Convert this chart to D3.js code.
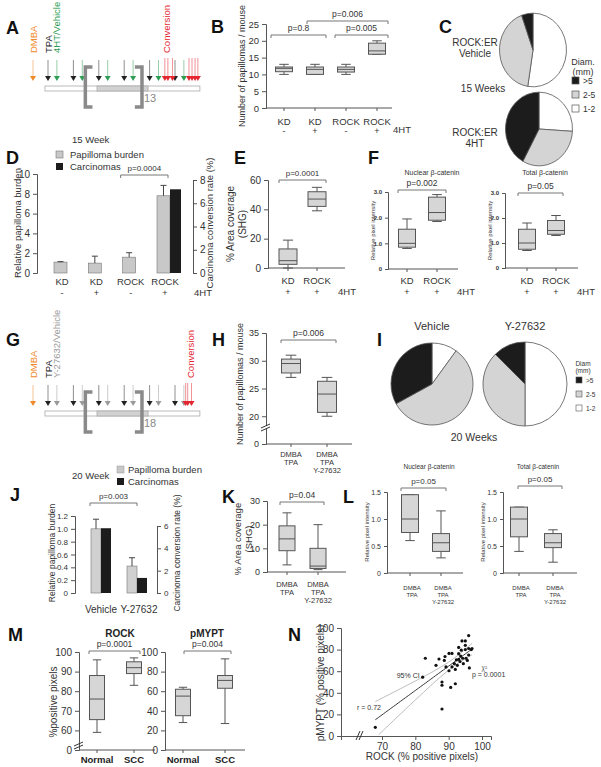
<!DOCTYPE html>
<html><head><meta charset="utf-8">
<script src="https://cdn.jsdelivr.net/npm/d3@7"></script>
<style>body{margin:0;background:#fff}svg{display:block}</style>
</head><body><svg id="c" width="601" height="767"></svg>
<script>
// ---------------- DATA ----------------
// Panel A / G timelines (schematic week units)
const aDmba = [-0.59];
const aTpa = [0,1,2,3,4,5];
const aHT = [0.35,1.35,2.35,3.35,4.35,5.35];
const aConv = [4.6,4.72,4.9,5.55,5.67,5.79,5.9];
const gDmba = [-0.59];
const gTpa = [0,1,2,3,4,5];
const gY = [0.35,1.35,2.35,3.35,4.35,5.35];
const gConv = [5.42,5.5,5.65];
// Panel B
const bCats = ["KD -","KD +","ROCK -","ROCK +"];
const bBoxes = [[10,10.8,11.8,12.2,13],[10,10,11.5,12.2,13],[10,10.7,11.5,12.2,13],[16,16,17,19.3,20]];
const bTicks = [0,5,10,15,20,25];
// Panel C pies (1-2, 2-5, >5)
const cVehicle = [52.5,42,5.5];
const c4HT = [26,32,42];
const diamLabels = ["1-2","2-5",">5"];
// Panel D
const dCats = ["KD -","KD +","ROCK -","ROCK +"];
const dBurden = [1.1,1.0,1.6,7.8];
const dBurdenErr = [1.15,1.7,2.05,8.85];
const dCarc = [0,0,0,7.2];
// Panel E
const eCats = ["KD","ROCK"];
const eBoxes = [[0,2.5,5,13,19],[39,42,47,52,55]];
// Panel F
const fCats = ["KD","ROCK"];
const fNuclear = [[0.8,0.85,1.0,1.55,1.95],[1.85,1.9,2.2,2.8,2.9]];
const fTotal = [[0.7,0.75,1.0,1.55,1.8],[1.3,1.35,1.5,1.9,2.1]];
// Panel H
const hCats = ["DMBA TPA","DMBA TPA Y-27632"];
const hBoxes = [[27,27.8,29.5,30.3,31],[20,20.7,24,26.3,27]];
// Panel I pies (1-2, 2-5, >5)
const iVehicle = [10,57,33];
const iY = [50,37.5,12.5];
// Panel J
const jCats = ["Vehicle","Y-27632"];
const jBurden = [1.0,0.42];
const jBurdenErr = [1.15,0.55];
const jCarc = [5.8,1.35];
// Panel K
const kBoxes = [[3,9,14,19.5,25],[1,1.5,2.5,10,20]];
// Panel L
const lNuclear = [[0.6,0.75,1.0,1.45,1.45],[0.28,0.4,0.56,0.73,1.15]];
const lTotal = [[0.4,0.67,1.0,1.22,1.22],[0.2,0.47,0.56,0.73,0.8]];
// Panel M
const mCats = ["Normal","SCC"];
const mRock = [[59,65.5,76,88,96],[83,89,92,95,97]];
const mPmypt = [[28,35,55,62,64],[27,63,71,76,93]];
// Panel N
const nRock = [68,83,82.2,86.2,87.1,88,88,88,88.9,88.7,89.2,90.1,90.1,90.6,91,91,91.7,92,92,93,93,92.6,93,93.4,93.8,94,94.2,94.4,95,95,95,95.2,96,96,96,96.2,96.8,97,95.6,93.6,92.3];
const nMypt = [8,72,54.5,65.4,71.3,50,47,25,73.6,70,64,76.5,60.4,45,76.5,64,67,61.6,48.4,82,76.2,65.4,71,69,79.5,88,72,67,84,88,80,72,93,81,75,63,80,81,70,74,70.4];

// ---------------- HELPERS ----------------
const FONT = '"Liberation Sans", Arial, Helvetica, sans-serif';
const svg = d3.select('#c').attr('font-family', FONT);
const GRAYF = '#d6d6d6', LINE = '#555', BLK = '#1c1c1c';
const ORANGE = '#ef8a2a', GREEN = '#2f9e55', RED = '#e3262f', GREYT = '#9a9a9a';

function txt(x, y, s, o = {}) {
  const t = svg.append('text').attr('x', x).attr('y', y).text(s)
    .attr('font-size', o.fs || 9).attr('fill', o.fill || '#333')
    .attr('text-anchor', o.anchor || 'middle');
  if (o.bold) t.attr('font-weight', 'bold');
  if (o.rot) t.attr('transform', `rotate(${o.rot},${x},${y})`);
  return t;
}
function letter(x, y, s) { txt(x, y, s, {fs: 18, bold: true, fill: '#111', anchor: 'start'}); }
function yAxis(x, scale, ticks, fmt, o = {}) {
  const g = svg.append('g').attr('transform', `translate(${x},0)`);
  const ax = (o.right ? d3.axisRight : d3.axisLeft)(scale).tickValues(ticks)
    .tickFormat(fmt || (d => d)).tickSizeOuter(0).tickSize(o.ts || 4).tickPadding(o.pad || 3);
  g.call(ax);
  g.attr('font-family', FONT).attr('font-size', o.fs || 9);
  g.selectAll('path,line').attr('stroke', LINE).attr('stroke-width', o.sw || 1);
  g.selectAll('text').attr('fill', '#333');
  if (o.bold) g.selectAll('text').attr('font-weight', 'bold');
  return g;
}
function xLine(x1, x2, y, ticks) {
  svg.append('line').attr('x1', x1).attr('x2', x2).attr('y1', y).attr('y2', y).attr('stroke', LINE);
  ticks.forEach(t => svg.append('line').attr('x1', t).attr('x2', t).attr('y1', y).attr('y2', y + 3).attr('stroke', LINE));
}
function boxes(xs, y, data, w) {
  data.forEach((d, i) => {
    const cx = xs[i], ww = Array.isArray(w) ? w[i] : w;
    const g = svg.append('g').attr('stroke', LINE).attr('stroke-width', 1);
    g.append('line').attr('x1', cx).attr('x2', cx).attr('y1', y(d[4])).attr('y2', y(d[3]));
    g.append('line').attr('x1', cx).attr('x2', cx).attr('y1', y(d[1])).attr('y2', y(d[0]));
    [d[0], d[4]].forEach(v => g.append('line').attr('x1', cx - ww * 0.28).attr('x2', cx + ww * 0.28).attr('y1', y(v)).attr('y2', y(v)));
    g.append('rect').attr('x', cx - ww / 2).attr('width', ww).attr('y', y(d[3])).attr('height', Math.max(0.5, y(d[1]) - y(d[3]))).attr('fill', GRAYF);
    g.append('line').attr('x1', cx - ww / 2).attr('x2', cx + ww / 2).attr('y1', y(d[2])).attr('y2', y(d[2]));
  });
}
function pbr(x1, x2, y, label, fs) {
  svg.append('path').attr('d', `M${x1},${y + 3}V${y}H${x2}V${y + 3}`).attr('fill', 'none').attr('stroke', '#777');
  txt((x1 + x2) / 2, y - 4, label, {fs: fs || 8.5});
}
function pie(cx, cy, r, vals, sy) {
  const arcs = d3.pie().sort(null)(vals);
  const arc = d3.arc().innerRadius(0).outerRadius(r);
  const g = svg.append('g').attr('transform', `translate(${cx},${cy}) scale(1,${sy || 1})`);
  const fills = ['#ffffff', '#d4d4d4', BLK];
  g.selectAll('path').data(arcs).join('path').attr('d', arc).attr('fill', (d, i) => fills[i])
    .attr('stroke', '#555').attr('stroke-width', 0.8).attr('vector-effect', 'non-scaling-stroke');
}
function multiline(x, y, lines, fs, dy) {
  lines.forEach((l, i) => txt(x, y + i * dy, l, {fs}));
}

// ---------------- TIMELINES (A, G) ----------------
const tScale = d3.scaleLinear().domain([0, 5]).range([48, 175]);
function timeline(y0, groups, labels, number) {
  groups.forEach(gr => gr.ts.forEach(t => {
    const x = tScale(t);
    svg.append('line').attr('x1', x).attr('x2', x).attr('y1', y0 - 21 - (gr.long ? 2 : 0)).attr('y2', y0 - 4)
      .attr('stroke', gr.c).attr('stroke-opacity', 0.5).attr('stroke-width', 1);
    svg.append('path').attr('d', `M${x - 3},${y0 - 5}L${x + 3},${y0 - 5}L${x},${y0}Z`).attr('fill', gr.c);
  }));
  const ry = y0 + 5;
  svg.append('rect').attr('x', tScale(-0.12)).attr('width', tScale(5.98) - tScale(-0.12)).attr('y', ry).attr('height', 5)
    .attr('fill', '#fff').attr('stroke', '#aaa').attr('stroke-width', 0.8);
  svg.append('rect').attr('x', tScale(1.93)).attr('width', tScale(3.94) - tScale(1.93)).attr('y', ry).attr('height', 5)
    .attr('fill', '#d2d2d2').attr('stroke', '#aaa').attr('stroke-width', 0.8);
  const bt = y0 - 14, bb = y0 + 26;
  svg.append('path').attr('d', `M${tScale(1.75)},${bt}H${tScale(1.47)}V${bb}H${tScale(1.75)}`).attr('fill', 'none').attr('stroke', '#8a8a8a').attr('stroke-width', 3.5);
  svg.append('path').attr('d', `M${tScale(3.42)},${bt}H${tScale(3.7)}V${bb}H${tScale(3.42)}`).attr('fill', 'none').attr('stroke', '#8a8a8a').attr('stroke-width', 3.5);
  txt(tScale(3.78), y0 + 21, number, {fs: 11, fill: '#888', anchor: 'start'});
  labels.forEach(l => txt(tScale(l.t) + 3.5, y0 - 28, l.s, {fs: 9.5, fill: l.c, anchor: 'start', rot: -90}));
}

// ---------------- PANEL A ----------------
letter(6, 34, 'A');
timeline(81, [
  {ts: aDmba, c: ORANGE}, {ts: aTpa, c: '#222'}, {ts: aHT, c: GREEN}, {ts: aConv, c: RED, long: true}
], [
  {t: aDmba[0], s: 'DMBA', c: ORANGE}, {t: 0, s: 'TPA', c: '#222'}, {t: 0.35, s: '4HT/Vehicle', c: GREEN}, {t: 4.67, s: 'Conversion', c: RED}
], '13');

// ---------------- PANEL B ----------------
letter(211, 33, 'B');
{
  const y = d3.scaleLinear().domain([0, 25]).range([108, 24]);
  const x = d3.scalePoint().domain(bCats).range([284, 377]);
  yAxis(266, y, bTicks, null, {fs: 9.5});
  const xs = bCats.map(c => x(c));
  xLine(266, 392, 108, xs);
  boxes(xs, y, bBoxes, 17);
  pbr(xs[0] - 13, xs[1] + 11, 35, 'p=0.8');
  pbr(xs[2] - 11, xs[3] + 11, 35, 'p=0.005');
  pbr(xs[1] - 8, xs[3] + 11, 21, 'p=0.006');
  bCats.forEach((c, i) => { const [a, b] = c.split(' '); txt(xs[i], 125, a, {fs: 9.5}); txt(xs[i], 134, b === '-' ? '-' : '+', {fs: 9}); });
  txt(402, 133, '4HT', {fs: 9.5});
  txt(245, 66, 'Number of papillomas / mouse', {fs: 9, rot: -90});
}

// ---------------- PANEL C ----------------
letter(439, 33, 'C');
pie(533, 50, 33.5, cVehicle, 1.1);
pie(539, 129, 33.5, c4HT, 1.1);
multiline(475, 46, ['ROCK:ER', 'Vehicle'], 10, 11);
multiline(475, 136, ['ROCK:ER', '4HT'], 10, 11);
txt(483, 92, '15 Weeks', {fs: 10});
multiline(583, 65, ['Diam.', '(mm)'], 9, 10);
[BLK, '#d4d4d4', '#fff'].forEach((f, i) => {
  svg.append('rect').attr('x', 572).attr('y', 77 + i * 14).attr('width', 7).attr('height', 7).attr('fill', f).attr('stroke', '#555').attr('stroke-width', 0.7);
  txt(583, 84 + i * 14, diamLabels[2 - i], {fs: 8.5, anchor: 'start'});
});

// ---------------- PANEL D ----------------
letter(6, 164, 'D');
txt(72, 143, '15 Week', {fs: 9.5, anchor: 'start'});
svg.append('rect').attr('x', 56).attr('y', 151).attr('width', 7).attr('height', 7).attr('fill', '#c8c8c8').attr('stroke', '#777').attr('stroke-width', 0.6);
svg.append('rect').attr('x', 56).attr('y', 163).attr('width', 7).attr('height', 7).attr('fill', BLK);
txt(70, 158, 'Papilloma burden', {fs: 9.5, anchor: 'start'});
txt(70, 170, 'Carcinomas', {fs: 9.5, anchor: 'start'});
{
  const y = d3.scaleLinear().domain([0, 10]).range([273, 174]);
  const y2 = d3.scaleLinear().domain([0, 8]).range([273, 180]);
  const x = d3.scalePoint().domain(dCats).range([67, 170]);
  yAxis(37, y, [0, 2, 4, 6, 8, 10], null, {fs: 10});
  yAxis(193, y2, [0, 2, 4, 6, 8], null, {fs: 10, right: true});
  dCats.forEach((c, i) => {
    const cx = x(c);
    svg.append('rect').attr('x', cx - 13).attr('width', 13).attr('y', y(dBurden[i])).attr('height', y(0) - y(dBurden[i])).attr('fill', '#c8c8c8').attr('stroke', '#777').attr('stroke-width', 0.6);
    svg.append('line').attr('x1', cx - 6.5).attr('x2', cx - 6.5).attr('y1', y(dBurden[i])).attr('y2', y(dBurdenErr[i])).attr('stroke', '#444');
    svg.append('line').attr('x1', cx - 9.5).attr('x2', cx - 3.5).attr('y1', y(dBurdenErr[i])).attr('y2', y(dBurdenErr[i])).attr('stroke', '#444');
    if (dCarc[i] > 0) svg.append('rect').attr('x', cx).attr('width', 11).attr('y', y2(dCarc[i])).attr('height', y2(0) - y2(dCarc[i])).attr('fill', BLK);
    const [a, b] = c.split(' ');
    txt(cx - 5, 285, a, {fs: 9.5});
    txt(cx - 5, 296, b, {fs: 9});
  });
  txt(203, 296, '4HT', {fs: 9.5});
  pbr(x(dCats[2]) - 15, x(dCats[3]) - 2, 175, 'p=0.0004', 8);
  txt(21, 223, 'Relative papilloma burden', {fs: 9.5, rot: -90});
  txt(213, 223, 'Carcinoma conversion rate (%)', {fs: 9.5, rot: -90});
}

// ---------------- PANEL E ----------------
letter(234, 164, 'E');
{
  const y = d3.scaleLinear().domain([0, 60]).range([268, 180]);
  const x = d3.scalePoint().domain(eCats).range([288, 317]);
  yAxis(268, y, [0, 20, 40, 60], null, {fs: 10});
  const xs = eCats.map(c => x(c));
  xLine(268, 345, 268, xs);
  boxes(xs, y, eBoxes, 18);
  pbr(279, 326, 180, 'p=0.0001', 8);
  eCats.forEach((c, i) => { txt(xs[i], 284, c, {fs: 9.5}); txt(xs[i], 295, '+', {fs: 9}); });
  txt(347, 295, '4HT', {fs: 9.5});
  txt(234, 224, '% Area coverage', {fs: 10, rot: -90});
  txt(246, 224, '(SHG)', {fs: 10, rot: -90});
}

// ---------------- PANEL F ----------------
letter(368, 164, 'F');
function fPanel(ax, ex, top, bot, cx, data, title, tx, pl, br) {
  const y = d3.scaleLinear().domain([0, 3]).range([bot, top]);
  const x = d3.scalePoint().domain(fCats).range(cx);
  yAxis(ax, y, [0, 1, 2, 3], d => d === 0 ? '0' : d.toFixed(1), {fs: 6, bold: true, ts: 3});
  const xs = fCats.map(c => x(c));
  xLine(ax, ex, bot, xs);
  boxes(xs, y, data, 17);
  txt(tx, 175, title, {fs: 7});
  pbr(br[0], br[1], br[2], pl, 8.5);
  fCats.forEach((c, i) => { txt(xs[i], 284, c, {fs: 9.5}); txt(xs[i], 295, '+', {fs: 9}); });
  txt(ex + 8, 295, '4HT', {fs: 9.5});
  txt(ax - 13, (top + bot) / 2, 'Relative pixel intensity', {fs: 6, rot: -90});
}
fPanel(388, 458, 192, 269, [407, 437], fNuclear, 'Nuclear β-catenin', 432, 'p=0.002', [398, 446, 190]);
fPanel(505, 578, 193, 268, [527, 556], fTotal, 'Total β-catenin', 545, 'p=0.05', [518, 563, 193]);

// ---------------- PANEL G ----------------
letter(6, 346, 'G');
timeline(406, [
  {ts: gDmba, c: ORANGE}, {ts: gTpa, c: '#222'}, {ts: gY, c: GREYT}, {ts: gConv, c: RED, long: true}
], [
  {t: gDmba[0], s: 'DMBA', c: ORANGE}, {t: 0, s: 'TPA', c: '#222'}, {t: 0.35, s: 'Y-27632/Vehicle', c: GREYT}, {t: 5.6, s: 'Conversion', c: RED}
], '18');

// ---------------- PANEL H ----------------
letter(212, 346, 'H');
{
  const y = d3.scaleLinear().domain([15, 35]).range([444, 333]);
  const x = d3.scalePoint().domain(hCats).range([291, 327]);
  yAxis(266, y, [15, 20, 25, 30, 35], d => d === 15 ? '0' : d, {fs: 9});
  const xs = hCats.map(c => x(c));
  xLine(266, 352, 444, xs);
  svg.append('rect').attr('x', 262).attr('y', 426).attr('width', 8).attr('height', 3).attr('fill', '#fff');
  [426, 429].forEach(yy => svg.append('line').attr('x1', 261).attr('x2', 270).attr('y1', yy + 2).attr('y2', yy - 2).attr('stroke', '#333'));
  boxes(xs, y, hBoxes, 19);
  pbr(281, 336, 340, 'p=0.006', 8.5);
  hCats.forEach((c, i) => c.split(' ').forEach((w, j) => txt(xs[i], 457 + j * 8, w, {fs: 7.5})));
  txt(243, 384, 'Number of papillomas / mouse', {fs: 9, rot: -90});
}

// ---------------- PANEL I ----------------
letter(377, 346, 'I');
pie(432, 384, 41, iVehicle);
pie(525, 384, 42, iY);
txt(432, 330, 'Vehicle', {fs: 11});
txt(525, 330, 'Y-27632', {fs: 11});
multiline(583, 366, ['Diam', '(mm)'], 6.5, 7);
[BLK, '#d4d4d4', '#fff'].forEach((f, i) => {
  svg.append('rect').attr('x', 576).attr('y', 377 + i * 14).attr('width', 6).attr('height', 6).attr('fill', f).attr('stroke', '#555').attr('stroke-width', 0.6);
  txt(586, 383 + i * 14, diamLabels[2 - i], {fs: 6.5, anchor: 'start'});
});
txt(474, 441, '20 Weeks', {fs: 10.5});

// ---------------- PANEL J ----------------
txt(72, 479, '20 Week', {fs: 9.5, anchor: 'start'});
svg.append('rect').attr('x', 117).attr('y', 466).attr('width', 7).attr('height', 7).attr('fill', '#c8c8c8').attr('stroke', '#999').attr('stroke-width', 0.5);
svg.append('rect').attr('x', 117).attr('y', 478).attr('width', 7).attr('height', 7).attr('fill', BLK);
txt(128, 473, 'Papilloma burden', {fs: 9.5, anchor: 'start'});
txt(128, 485, 'Carcinomas', {fs: 9.5, anchor: 'start'});
letter(10, 501, 'J');
{
  const y = d3.scaleLinear().domain([0, 1.2]).range([593, 516]);
  const y2 = d3.scaleLinear().domain([0, 6]).range([593, 526]);
  const x = d3.scalePoint().domain(jCats).range([101, 137]);
  yAxis(75, y, [0, 0.2, 0.4, 0.6, 0.8, 1.0, 1.2], d => d === 0 ? '0' : d.toFixed(1), {fs: 8});
  yAxis(157, y2, [0, 2, 4, 6], null, {fs: 8, right: true});
  jCats.forEach((c, i) => {
    const cx = x(c);
    svg.append('rect').attr('x', cx - 10).attr('width', 10).attr('y', y(jBurden[i])).attr('height', y(0) - y(jBurden[i])).attr('fill', '#d0d0d0').attr('stroke', '#777').attr('stroke-width', 0.6);
    svg.append('line').attr('x1', cx - 5).attr('x2', cx - 5).attr('y1', y(jBurden[i])).attr('y2', y(jBurdenErr[i])).attr('stroke', '#444');
    svg.append('line').attr('x1', cx - 8).attr('x2', cx - 2).attr('y1', y(jBurdenErr[i])).attr('y2', y(jBurdenErr[i])).attr('stroke', '#444');
    svg.append('rect').attr('x', cx).attr('width', 10).attr('y', y2(jCarc[i])).attr('height', y2(0) - y2(jCarc[i])).attr('fill', BLK);
    txt(cx + (i ? 2 : 0), 613, c, {fs: 10});
  });
  pbr(90, 137, 503, 'p=0.003', 8);
  txt(55, 553, 'Relative papilloma burden', {fs: 8.5, rot: -90});
  txt(180, 553, 'Carcinoma conversion rate (%)', {fs: 8.5, rot: -90});
}

// ---------------- PANEL K ----------------
letter(222, 503, 'K');
{
  const y = d3.scaleLinear().domain([0, 30]).range([572, 501]);
  const x = d3.scalePoint().domain(hCats).range([287, 318]);
  yAxis(267, y, [0, 10, 20, 30], null, {fs: 9});
  const xs = hCats.map(c => x(c));
  xLine(267, 346, 572, xs);
  boxes(xs, y, kBoxes, 16);
  pbr(280, 324, 502, 'p=0.04', 8.5);
  hCats.forEach((c, i) => c.split(' ').forEach((w, j) => txt(xs[i], 587 + j * 8, w, {fs: 7.5})));
  txt(241, 539, '% Area coverage', {fs: 9.5, rot: -90});
  txt(252, 539, '(SHG)', {fs: 9.5, rot: -90});
}

// ---------------- PANEL L ----------------
letter(343, 503, 'L');
function lPanel(ax, ex, cx, data, title, tx, pl, br) {
  const y = d3.scaleLinear().domain([0, 1.5]).range([573, 492]);
  const x = d3.scalePoint().domain(hCats).range(cx);
  yAxis(ax, y, [0, 0.5, 1.0, 1.5], d => d === 0 ? '0' : d.toFixed(1), {fs: 7, ts: 3});
  const xs = hCats.map(c => x(c));
  xLine(ax, ex, 573, xs);
  boxes(xs, y, data, 17);
  txt(tx, 469, title, {fs: 6.5});
  pbr(br[0], br[1], br[2], pl, 8);
  hCats.forEach((c, i) => c.split(' ').forEach((w, j) => txt(xs[i] + 2, 590 + j * 7, w, {fs: 6})));
  txt(ax - 18, 532, 'Relative pixel intensity', {fs: 6, rot: -90});
}
lPanel(387, 463, [410, 441], lNuclear, 'Nuclear β-catenin', 429, 'p=0.05', [401, 446, 488]);
lPanel(503, 577, [519, 553], lTotal, 'Total β-catenin', 538, 'p=0.05', [518, 562, 486]);

// ---------------- PANEL M ----------------
letter(8, 641, 'M');
function mPanel(ax, ex, cx, data, scaleDom, ticks, fmt, title, tx, pl, br) {
  const y = d3.scaleLinear().domain(scaleDom).range([750, 652]);
  const x = d3.scalePoint().domain(mCats).range(cx);
  yAxis(ax, y, ticks, fmt, {fs: 10});
  const xs = mCats.map(c => x(c));
  xLine(ax, ex, 750, xs);
  boxes(xs, y, data, 15);
  txt(tx, 637, title, {fs: 10, bold: true, fill: '#222'});
  pbr(br[0], br[1], 651, pl, 8.5);
  mCats.forEach((c, i) => txt(xs[i], 763, c, {fs: 9.5, bold: true, fill: '#222'}));
  return y;
}
mPanel(79, 155, [97, 134], mRock, [50, 100], [50, 60, 70, 80, 90, 100], d => d === 50 ? '0' : d, 'ROCK', 120, 'p=0.0001', [89, 140]);
[744, 747].forEach(yy => svg.append('line').attr('x1', 74).attr('x2', 83).attr('y1', yy + 2).attr('y2', yy - 2).attr('stroke', '#333'));
mPanel(165, 245, [183, 225], mPmypt, [0, 100], [0, 20, 40, 60, 80, 100], null, 'pMYPT', 207, 'p=0.004', [184, 231]);
txt(57, 702, '%positive pixels', {fs: 10, rot: -90});

// ---------------- PANEL N ----------------
letter(288, 641, 'N');
{
  const x = d3.scaleLinear().domain([57.7, 102.7]).range([341, 491]);
  const y = d3.scaleLinear().domain([0, 100]).range([736, 628]);
  yAxis(341, y, [0, 20, 40, 60, 80, 100], null, {fs: 10});
  const gx = svg.append('g').attr('transform', 'translate(0,736)');
  gx.call(d3.axisBottom(x).tickValues([70, 80, 90, 100]).tickSizeOuter(0).tickSize(4));
  gx.attr('font-family', FONT).attr('font-size', 10);
  gx.selectAll('path,line').attr('stroke', LINE);
  gx.selectAll('text').attr('fill', '#333');
  [358, 361].forEach(xx => svg.append('line').attr('x1', xx - 2).attr('x2', xx + 2).attr('y1', 740).attr('y2', 731).attr('stroke', '#333'));
  const n = nRock.length;
  const mx = d3.mean(nRock), my = d3.mean(nMypt);
  const sxx = d3.sum(nRock, v => (v - mx) ** 2);
  const sxy = d3.sum(nRock.map((v, i) => (v - mx) * (nMypt[i] - my)));
  const b = sxy / sxx, a = my - b * mx;
  const s = Math.sqrt(d3.sum(nRock.map((v, i) => (nMypt[i] - a - b * v) ** 2)) / (n - 2));
  const tcrit = 2.02;
  const xsLine = d3.range(68, 97.01, 0.5);
  const ci = k => xsLine.map(v => [v, a + b * v + k * tcrit * s * Math.sqrt(1 / n + (v - mx) ** 2 / sxx)]).filter(p => p[1] >= 0);
  const ln = d3.line().x(d => x(d[0])).y(d => y(d[1]));
  svg.append('path').attr('d', ln(ci(1))).attr('fill', 'none').attr('stroke', '#aaa').attr('stroke-width', 0.8);
  svg.append('path').attr('d', ln(ci(-1))).attr('fill', 'none').attr('stroke', '#aaa').attr('stroke-width', 0.8);
  svg.append('path').attr('d', ln(ci(0))).attr('fill', 'none').attr('stroke', '#222').attr('stroke-width', 0.9);
  svg.selectAll('circle.n').data(nRock).join('circle').attr('cx', d => x(d)).attr('cy', (d, i) => y(nMypt[i])).attr('r', 1.6).attr('fill', '#111');
  txt(x(81.3), y(54), '95% CI', {fs: 7, anchor: 'end'});
  txt(x(62.5), y(24.5), 'r = 0.72', {fs: 7, anchor: 'start'});
  txt(x(100.7), y(61), 'χ²', {fs: 6.5, fill: '#666'});
  txt(x(97), y(55), 'p = 0.0001', {fs: 7, anchor: 'start'});
  txt(324, 683, 'pMYPT (% positive pixels)', {fs: 10, rot: -90});
  txt(422, 760, 'ROCK (% positive pixels)', {fs: 10});
}
</script></body></html>
